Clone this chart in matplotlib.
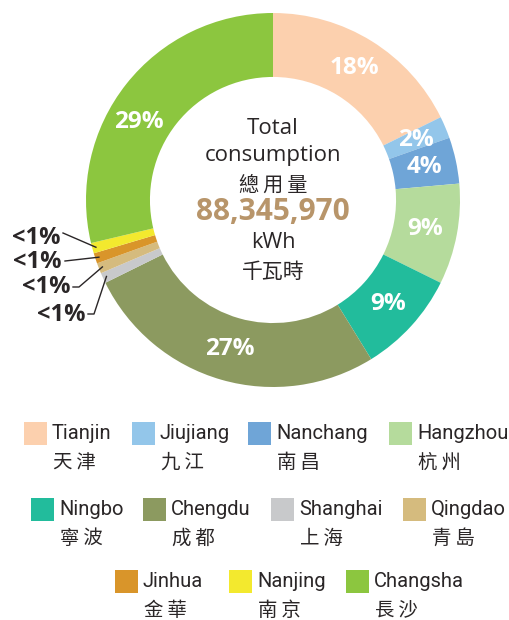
import numpy as np
import matplotlib.pyplot as plt
from matplotlib.patches import Rectangle

# city shares of total consumption (%), clockwise from 12 o'clock
cities = ['Tianjin', 'Jiujiang', 'Nanchang', 'Hangzhou', 'Ningbo', 'Chengdu',
          'Shanghai', 'Qingdao', 'Jinhua', 'Nanjing', 'Changsha']
cities_zh = ['天津', '九江', '南昌', '杭州', '寧波', '成都',
             '上海', '青島', '金華', '南京', '長沙']
shares = [17.7, 1.9, 4.0, 8.7, 8.9, 26.5, 0.9, 0.9, 0.9, 0.9, 28.7]
pct_labels = ['18%', '2%', '4%', '9%', '9%', '27%', '<1%', '<1%', '<1%', '<1%', '29%']
colors = ['#FCD0AE', '#93C6EA', '#6FA5D7', '#B5DB9C', '#22BC9C', '#8C9A60',
          '#C8C9CB', '#D5BB7E', '#D9952A', '#F3E92E', '#8CC63F']
total_kwh = '88,345,970'

W, H = 510, 620
CX, CY, R = 273, 200, 187   # donut centre / radius in pixels
TXT = '#2A2627'
CJK = ['Noto Sans CJK TC', 'DejaVu Sans']
LAT = ['Open Sans', 'Noto Sans CJK TC']
NARROW = ['Roboto', 'Noto Sans CJK TC']

def fx(px):
    return px / W

def fy(py):
    return 1 - py / H

def to_data(px, py):
    return (px - CX) / R, (CY - py) / R

fig = plt.figure(figsize=(5.1, 6.2), dpi=100)
ax = fig.add_axes([fx(CX - R), fy(CY + R), 2 * R / W, 2 * R / H])
wedges, _ = ax.pie(shares, colors=colors, startangle=90, counterclock=False,
                   radius=1, wedgeprops=dict(width=0.342, linewidth=0))
ax.set_xlim(-1, 1)
ax.set_ylim(-1, 1)
ax.axis('off')

# percentage labels inside the ring
r_mid = 1 - 0.342 / 2
shift = {10: 8}  # Changsha label sits a bit lower than the middle
for i, w in enumerate(wedges):
    if pct_labels[i] == '<1%':
        continue
    ang = np.deg2rad((w.theta1 + w.theta2) / 2 + shift.get(i, 0))
    ax.text(r_mid * np.cos(ang), r_mid * np.sin(ang), pct_labels[i],
            ha='center', va='center', color='white', fontsize=17.5,
            fontweight='bold', family=LAT)

# small slices: labels outside with leader lines
small = {9: ((60, 238), [(63, 233)]),
         8: ((62, 262), [(65, 261)]),
         7: ((70, 287), [(73, 287), (79, 287)]),
         6: ((85, 315), [(88, 314), (94, 314)])}
for i, ((tx, ty), pts) in small.items():
    w = wedges[i]
    ang = np.deg2rad((w.theta1 + w.theta2) / 2)
    x0, y0 = to_data(tx, ty)
    ax.text(x0, y0, pct_labels[i], ha='right', va='center', color=TXT,
            fontsize=17, fontweight='bold', family=LAT)
    xs = [to_data(*p)[0] for p in pts] + [0.98 * np.cos(ang)]
    ys = [to_data(*p)[1] for p in pts] + [0.98 * np.sin(ang)]
    ax.plot(xs, ys, color=TXT, lw=1, clip_on=False)

# centre text
fig.text(fx(CX), fy(128), 'Total', ha='center', va='center', fontsize=16,
         color=TXT, family=LAT)
fig.text(fx(CX), fy(156), 'consumption', ha='center', va='center', fontsize=16,
         color=TXT, family=LAT)
fig.text(fx(CX), fy(185), '總\u2009用\u2009量', ha='center', va='center',
         fontsize=14.5, color=TXT, family=CJK)
fig.text(fx(CX), fy(212), total_kwh, ha='center', va='center', fontsize=21.5,
         fontweight='bold', color='#B8956A', family=LAT)
fig.text(fx(CX), fy(242), 'kWh', ha='center', va='center', fontsize=15.5,
         color=TXT, family=LAT)
fig.text(fx(CX), fy(272), '千瓦時', ha='center', va='center', fontsize=15,
         color=TXT, family=CJK)

# legend: three centred rows
rows = [(range(0, 4), [24, 132, 248, 389], 422),
        (range(4, 8), [31, 143, 271, 403], 498),
        (range(8, 11), [115, 229, 346], 570)]
SQ = 23
for idx, xs, top in rows:
    for i, x in zip(idx, xs):
        fig.patches.append(Rectangle((fx(x), fy(top + SQ)), SQ / W, SQ / H,
                                     transform=fig.transFigure,
                                     facecolor=colors[i], edgecolor='none'))
        fig.text(fx(x + SQ + 5), fy(top + SQ / 2), cities[i], ha='left',
                 va='center', fontsize=14.5, color=TXT, family=NARROW)
        fig.text(fx(x + SQ + 6), fy(top + 40), '\u2009'.join(cities_zh[i]),
                 ha='left', va='center', fontsize=14, color=TXT, family=CJK)

fig.savefig('out.png', dpi=100, facecolor='white')
